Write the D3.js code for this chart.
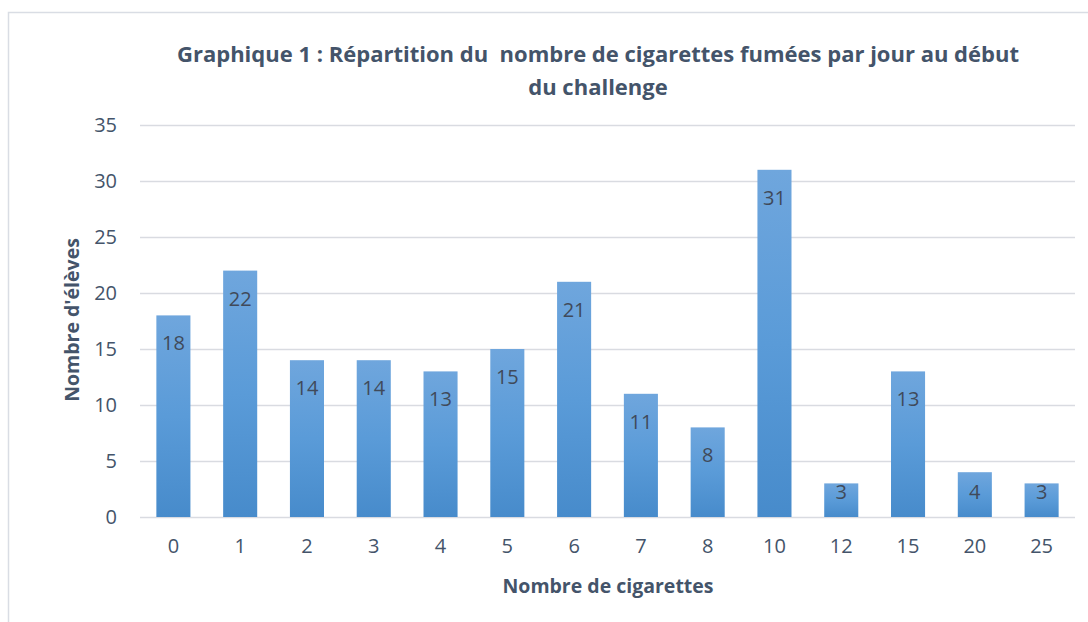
<!DOCTYPE html>
<html>
<head>
<meta charset="utf-8">
<script src="https://cdn.jsdelivr.net/npm/d3@7"></script>
<style>
  body { margin: 0; background: #fff; }
  text { font-family: "Open Sans", "Liberation Sans", sans-serif; }
</style>
</head>
<body>
<div id="container"></div>
<script>
const categories = ["0", "1", "2", "3", "4", "5", "6", "7", "8", "10", "12", "15", "20", "25"];
const counts = [18, 22, 14, 14, 13, 15, 21, 11, 8, 31, 3, 13, 4, 3];
const yTicks = [0, 5, 10, 15, 20, 25, 30, 35];

const width = 1088;
const height = 622;
const margin = {left: 140, right: 13, top: 125, bottom: 105};
const textColor = "#44546a";

const svg = d3.select("#container").append("svg")
  .attr("width", width).attr("height", height);

// gradient for the bars
const grad = svg.append("defs").append("linearGradient")
  .attr("id", "barGrad").attr("x1", 0).attr("x2", 0).attr("y1", 0).attr("y2", 1);
grad.append("stop").attr("offset", "0%").attr("stop-color", "#6fa6dd");
grad.append("stop").attr("offset", "50%").attr("stop-color", "#5a9bd8");
grad.append("stop").attr("offset", "100%").attr("stop-color", "#478bcb");

// chart border (top + left visible)
svg.append("path")
  .attr("d", "M8.5," + height + " L8.5,12.5 L" + width + ",12.5")
  .attr("fill", "none").attr("stroke", "#d9dde4").attr("stroke-width", 1.5);

const xScale = d3.scaleBand()
  .domain(categories)
  .range([margin.left, width - margin.right])
  .paddingInner(0.49).paddingOuter(0.245);

const yScale = d3.scaleLinear()
  .domain([0, 35])
  .range([height - margin.bottom, margin.top]);

// gridlines
const yAxis = d3.axisLeft(yScale).tickValues(yTicks)
  .tickSize(-(width - margin.left - margin.right)).tickPadding(23);
const gy = svg.append("g")
  .attr("transform", "translate(" + margin.left + ",0)")
  .call(yAxis);
gy.select(".domain").remove();
gy.selectAll("line").attr("stroke", "#d9dbe1").attr("stroke-width", 1.5);
gy.selectAll("text").attr("fill", textColor).style("font-size", "20px");

// bars
svg.selectAll("rect.bar")
  .data(counts)
  .enter()
  .append("rect")
  .attr("class", "bar")
  .attr("x", (d, i) => xScale(categories[i]))
  .attr("y", d => yScale(d))
  .attr("width", xScale.bandwidth())
  .attr("height", d => yScale(0) - yScale(d))
  .attr("fill", "url(#barGrad)");

// x axis
const xAxis = d3.axisBottom(xScale).tickSize(0).tickPadding(22);
const gx = svg.append("g")
  .attr("transform", "translate(0," + yScale(0) + ")")
  .call(xAxis);
gx.select(".domain").remove();
gx.selectAll("text").attr("fill", textColor).style("font-size", "20px");

// data labels (inside end, kept inside the plot for short bars)
svg.selectAll("text.lbl")
  .data(counts)
  .enter()
  .append("text")
  .attr("class", "lbl")
  .attr("x", (d, i) => xScale(categories[i]) + xScale.bandwidth() / 2)
  .attr("y", d => Math.min(yScale(d) + 28, yScale(0) - 25))
  .attr("dy", "0.35em")
  .attr("text-anchor", "middle")
  .attr("fill", "#404a5a")
  .style("font-size", "20px")
  .text(d => d);

// title
const title = svg.append("text")
  .attr("text-anchor", "middle")
  .attr("fill", textColor)
  .style("font-size", "22px")
  .style("font-weight", "bold")
  .style("white-space", "pre");
title.append("tspan").attr("x", 598).attr("y", 62)
  .text("Graphique 1 : Répartition du  nombre de cigarettes fumées par jour au début");
title.append("tspan").attr("x", 598).attr("y", 95).text("du challenge");

// axis titles
svg.append("text")
  .attr("transform", "translate(79,320) rotate(-90)")
  .attr("text-anchor", "middle")
  .attr("fill", textColor)
  .style("font-size", "19.5px").style("font-weight", "bold")
  .text("Nombre d'élèves");

svg.append("text")
  .attr("x", 608).attr("y", 593)
  .attr("text-anchor", "middle")
  .attr("fill", textColor)
  .style("font-size", "19.5px").style("font-weight", "bold")
  .text("Nombre de cigarettes");
</script>
</body>
</html>
